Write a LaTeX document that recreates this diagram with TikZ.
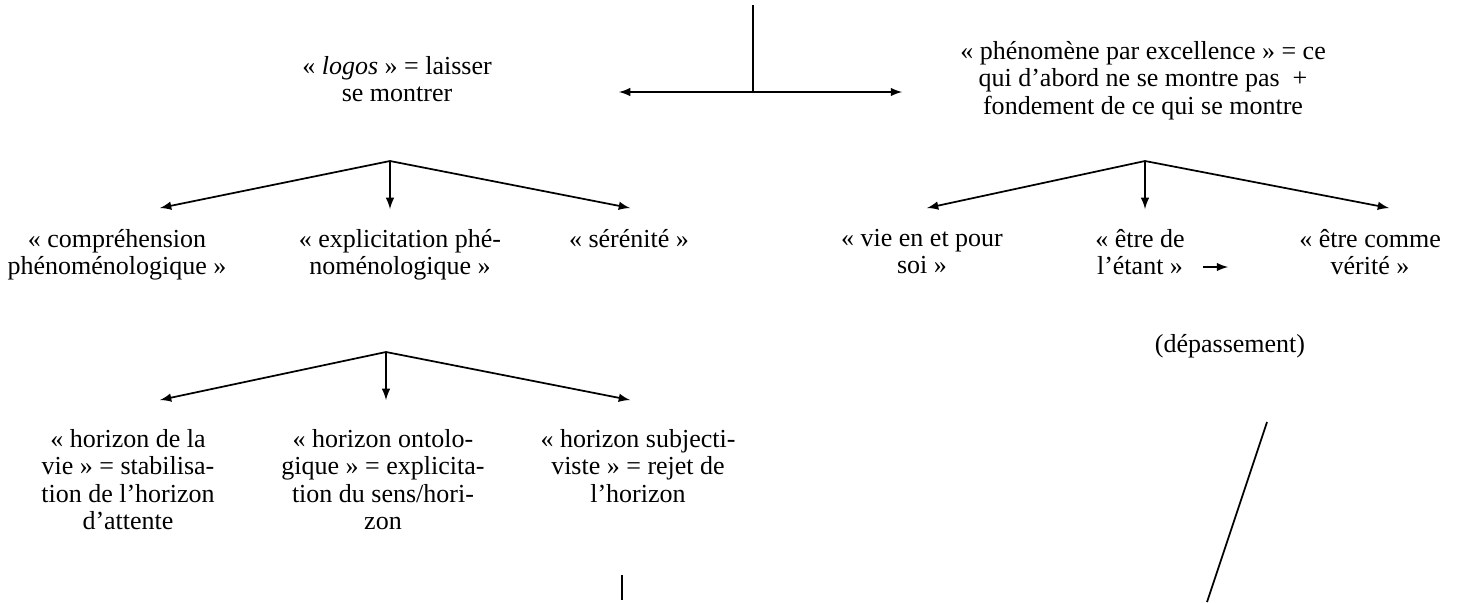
\documentclass[tikz,border=0pt]{standalone}
\usepackage{fontspec}
\setmainfont{Liberation Serif}
\usepackage{tikz}
\usetikzlibrary{arrows, positioning}

\tikzset{
	link/.style={line width=0.8pt, -latex},
	plain/.style={line width=0.8pt},
	label/.style={align=center, inner sep=0pt, anchor=north, font=\fontsize{12}{12.6}\selectfont}
}

\begin{document}
\begin{tikzpicture}[x=0.4615pt, y=-0.4615pt]
	\useasboundingbox (0,0) rectangle (1465,602);

	\coordinate (top) at (753,5);
	\coordinate (fork) at (753,92);
	\coordinate (forkL) at (619,92);
	\coordinate (forkR) at (902,92);
	\draw [plain] (top) -- (fork);
	\draw [link] (fork) -- (forkL);
	\draw [link] (fork) -- (forkR);

	\node [label] (logos) at (397,56) {« \textit{logos} » = laisser\\se montrer};
	\node [label] (phen) at (1143,41) {« phénomène par excellence » = ce\\qui d’abord ne se montre pas~ +\\fondement de ce qui se montre};

	\coordinate (apexA) at (390,161);
	\coordinate (endA1) at (160,208);
	\coordinate (endA2) at (390,209);
	\coordinate (endA3) at (630,208);
	\draw [link] (apexA) -- (endA1);
	\draw [link] (apexA) -- (endA2);
	\draw [link] (apexA) -- (endA3);

	\coordinate (apexB) at (1145,161);
	\coordinate (endB1) at (927,208);
	\coordinate (endB2) at (1145,209);
	\coordinate (endB3) at (1389,208);
	\draw [link] (apexB) -- (endB1);
	\draw [link] (apexB) -- (endB2);
	\draw [link] (apexB) -- (endB3);

	\node [label] (compr) at (117,229) {« compréhension\\phénoménologique »};
	\node [label] (explic) at (400,229) {« explicitation phé-\\noménologique »};
	\node [label] (seren) at (629,229) {« sérénité »};

	\node [label] (vie) at (922,229) {« vie en et pour\\soi »};
	\node [label] (etre) at (1140,229) {« être de\\l’étant »};
	\node [label] (verite) at (1370,229) {« être comme\\vérité »};
	\coordinate (passA) at (1203,267);
	\coordinate (passB) at (1228,267);
	\draw [link] (passA) -- (passB);
	\node [label] (depas) at (1230,334) {(dépassement)};

	\coordinate (apexC) at (386,352);
	\coordinate (endC1) at (160,400);
	\coordinate (endC2) at (386,400);
	\coordinate (endC3) at (630,400);
	\draw [link] (apexC) -- (endC1);
	\draw [link] (apexC) -- (endC2);
	\draw [link] (apexC) -- (endC3);

	\node [label] (horA) at (128,429) {« horizon de la\\vie » = stabilisa-\\tion de l’horizon\\d’attente};
	\node [label] (horB) at (383,429) {« horizon ontolo-\\gique » = explicita-\\tion du sens/hori-\\zon};
	\node [label] (horC) at (638,429) {« horizon subjecti-\\viste » = rejet de\\l’horizon};

	\coordinate (stubA) at (622,575);
	\coordinate (stubB) at (622,600);
	\draw [plain] (stubA) -- (stubB);
	\coordinate (slashA) at (1267,422);
	\coordinate (slashB) at (1207,602);
	\draw [plain] (slashA) -- (slashB);
\end{tikzpicture}
\end{document}
